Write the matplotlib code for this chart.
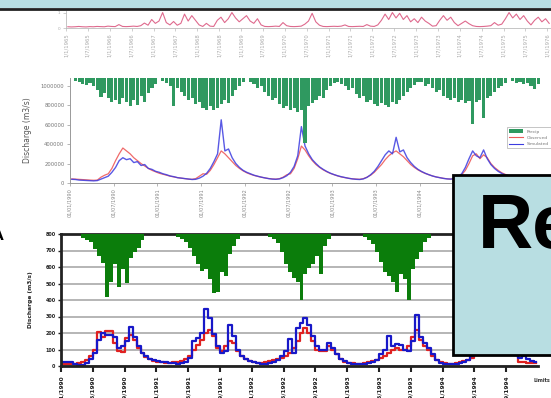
import matplotlib
matplotlib.use('Agg')
import matplotlib.pyplot as plt
from matplotlib.patches import Rectangle, Patch
from matplotlib.lines import Line2D
import numpy as np

# ──────────────────────────────────────────────
# data (three stacked hydrographs)
# ──────────────────────────────────────────────

# top strip: one pink series, monthly steps
top_series = [
    0.08, 0.07, 0.08, 0.10, 0.08, 0.07, 0.09, 0.08, 0.10, 0.09,
    0.08, 0.12, 0.10, 0.09, 0.22, 0.10, 0.09, 0.10, 0.12, 0.10,
    0.15, 0.32, 0.18, 0.55, 0.30, 0.45, 1.00, 0.35, 0.20, 0.42,
    0.18, 0.30, 0.90, 0.45, 0.80, 0.50, 0.20, 0.10, 0.30, 0.12,
    0.10, 0.50, 0.70, 0.35, 0.60, 1.00, 0.65, 0.40, 0.60, 0.80,
    0.45, 0.30, 0.60, 0.20, 0.10, 0.09, 0.10, 0.12, 0.10, 0.35,
    0.15, 0.10, 0.09, 0.10, 0.12, 0.25, 0.45, 0.95, 0.40, 0.18,
    0.10, 0.09, 0.10, 0.11, 0.10, 0.12, 0.20, 0.10, 0.09, 0.10,
    0.11, 0.10, 0.22, 0.12, 0.10, 0.20, 0.50, 0.90, 0.55, 1.00,
    0.65, 0.95, 0.55, 0.80, 0.40, 0.60, 0.35, 0.70, 0.45, 0.30,
    0.12, 0.15, 0.50, 0.80, 0.50, 0.70, 0.35, 0.15, 0.30, 0.45,
    0.28, 0.15, 0.10, 0.09, 0.10, 0.12, 0.15, 0.35, 0.18, 0.25,
    0.60, 1.00, 0.65, 0.90, 0.55, 0.80, 0.45, 0.20, 0.50, 0.70,
    0.40, 0.60, 0.30,
]
top_labels = ['1/%d/%d' % (1 if i % 2 == 0 else 7, 1965 + i // 2) for i in range(23)]

# middle chart: half-monthly precipitation (mm) and discharge (m3/s)
mid_precip = [
    0, 8,
    10, 15, 18, 12, 20, 30, 48, 38, 50, 60, 55, 65, 50, 60, 70, 55, 68, 45, 60, 38, 25, 15,
    0,
    8, 12, 20, 70, 25, 35, 45, 55, 50, 65, 60, 75, 80, 70, 80, 75, 65, 55, 62, 45, 30, 20, 10,
    0,
    10, 15, 25, 20, 35, 45, 55, 50, 65, 75, 70, 80, 75, 85, 78, 160, 70, 62, 55, 45, 50, 30, 20, 12,
    10, 15, 20, 30, 25, 40, 50, 45, 60, 55, 65, 70, 62, 68, 72, 60, 65, 55, 45, 35, 25, 18, 10,
    10, 20, 15, 25, 35, 30, 45, 50, 55, 50, 60, 55, 62, 58, 115, 60, 55, 98, 50, 45, 35, 25, 20, 12,
    0,
    8, 12, 10, 15, 12, 20, 28, 15,
    0, 0, 0,
]
mid_obs = [
    42000, 40000, 38000, 35000, 32000, 30000, 28000, 30000, 60000, 80000,
    95000, 150000, 230000, 300000, 360000, 330000, 300000, 260000, 230000, 200000,
    175000, 150000, 130000, 115000, 100000, 90000, 80000, 70000, 62000, 55000,
    50000, 45000, 40000, 38000, 45000, 70000, 95000, 90000, 130000, 190000,
    260000, 330000, 300000, 260000, 220000, 180000, 150000, 125000, 105000, 90000,
    78000, 68000, 60000, 52000, 46000, 42000, 40000, 45000, 60000, 85000,
    95000, 150000, 250000, 380000, 340000, 280000, 230000, 190000, 160000, 135000,
    115000, 98000, 85000, 72000, 62000, 55000, 48000, 43000, 40000, 38000,
    45000, 60000, 80000, 110000, 150000, 190000, 240000, 280000, 310000, 330000,
    300000, 270000, 230000, 190000, 160000, 135000, 115000, 98000, 85000, 72000,
    62000, 55000, 48000, 43000, 40000, 45000, 60000, 85000, 130000, 200000,
    280000, 300000, 250000, 290000, 260000, 200000, 160000, 130000, 105000, 88000,
    75000, 65000, 56000, 50000, 45000, 42000, 40000, 38000, 36000, 35000,
    34000, 33000,
]
mid_sim = [
    38000, 36000, 30000, 28000, 25000, 24000, 22000, 25000, 40000, 55000,
    70000, 110000, 160000, 230000, 260000, 240000, 250000, 210000, 220000, 180000,
    190000, 150000, 140000, 120000, 110000, 95000, 85000, 72000, 65000, 55000,
    50000, 45000, 40000, 36000, 38000, 50000, 70000, 100000, 150000, 220000,
    300000, 650000, 330000, 350000, 260000, 200000, 160000, 130000, 110000, 95000,
    80000, 70000, 60000, 52000, 45000, 40000, 38000, 42000, 55000, 75000,
    110000, 170000, 280000, 580000, 380000, 300000, 240000, 200000, 165000, 140000,
    118000, 100000, 86000, 74000, 64000, 56000, 48000, 42000, 38000, 36000,
    42000, 58000, 85000, 120000, 170000, 230000, 290000, 330000, 300000, 470000,
    320000, 340000, 260000, 210000, 170000, 140000, 118000, 100000, 85000, 72000,
    62000, 54000, 47000, 42000, 40000, 46000, 65000, 95000, 160000, 250000,
    330000, 280000, 260000, 340000, 250000, 190000, 150000, 120000, 98000, 82000,
    70000, 60000, 52000, 46000, 42000, 40000, 38000, 36000, 35000, 34000,
    33000, 32000,
]
mid_labels = ['01/%02d/%d' % (1 if i % 2 == 0 else 7, 1990 + i // 2) for i in range(10)]
mid_yticks = [0, 200000, 400000, 600000, 800000, 1000000]

# bottom chart: half-monthly precipitation (mm) and discharge
low_precip = [
    0, 0, 0, 0, 0,
    12, 18, 24, 45, 66, 87, 189, 144, 90, 159, 105, 147, 72, 54, 42, 18,
    0, 0, 0, 0, 0, 0, 0, 0,
    9, 15, 24, 42, 66, 90, 111, 105, 135, 177, 174, 114, 126, 60, 36, 15,
    0, 0, 0, 0, 0, 0, 0,
    9, 15, 27, 54, 90, 114, 132, 144, 198, 120, 102, 90, 66, 120, 36, 15,
    0, 0, 0, 0, 0, 0, 0, 0,
    9, 18, 30, 54, 84, 114, 126, 144, 174, 120, 135, 198, 105, 75, 54, 24, 12,
    0, 0, 0, 0, 0, 0, 0,
    9, 15, 30, 50, 80, 110, 130, 150, 180, 125, 140, 170, 100, 70, 45, 20, 10,
    0, 0, 0,
]
low_obs = [
    15, 15, 15, 15, 18, 22, 35, 60, 100, 205,
    175, 212, 212, 140, 90, 85, 170, 190, 160, 110,
    80, 55, 40, 30, 25, 22, 20, 20, 22, 25,
    30, 40, 60, 100, 130, 160, 200, 220, 180, 110,
    90, 120, 150, 140, 90, 60, 40, 30, 25, 20,
    20, 25, 30, 35, 42, 50, 60, 80, 110, 150,
    200, 230, 200, 150, 100, 90, 90, 120, 100, 70,
    40, 25, 20, 18, 15, 15, 20, 22, 28, 35,
    50, 60, 80, 100, 110, 100, 95, 120, 175, 220,
    160, 120, 100, 60, 35, 22, 18, 15, 15, 18,
    22, 28, 35, 50, 90, 150, 220, 260, 230, 250,
    190, 150, 120, 100, 90, 25, 22, 20, 20, 18,
]
low_sim = [
    25, 25, 25, 10, 8, 8, 20, 40, 80, 160,
    200, 190, 185, 175, 110, 120, 150, 236, 175, 120,
    80, 60, 45, 35, 30, 25, 22, 20, 18, 15,
    18, 25, 50, 150, 170, 200, 345, 290, 195, 120,
    80, 90, 250, 180, 100, 60, 40, 30, 22, 18,
    15, 15, 18, 22, 35, 60, 90, 165, 80, 230,
    260, 290, 250, 180, 120, 95, 95, 140, 110, 70,
    45, 30, 20, 15, 12, 12, 15, 18, 25, 35,
    70, 100, 180, 120, 135, 125, 100, 90, 150, 310,
    175, 140, 110, 70, 35, 20, 15, 12, 12, 15,
    20, 25, 35, 60, 120, 200, 280, 320, 240, 290,
    200, 150, 110, 85, 65, 50, 60, 45, 30, 25,
]
low_labels = ['1/%d/%d' % (1 + 4 * (i % 3), 1990 + i // 3) for i in range(15)]
low_yticks = [0, 100, 200, 300, 400, 500, 600, 700, 800]

W, H = 551, 398


def px_box(x0, y0, x1, y1):
    """pixel rectangle (top-left origin) -> figure coords"""
    return [x0 / W, 1 - y1 / H, (x1 - x0) / W, (y1 - y0) / H]


fig = plt.figure(figsize=(W / 100, H / 100), dpi=100)
fig.patch.set_facecolor('white')

# slide title band at the very top
fig.add_artist(Rectangle((0, 1 - 8 / H), 1, 8 / H, transform=fig.transFigure,
                         facecolor='#b8dfe3', edgecolor='none'))
fig.add_artist(Line2D([0, 1], [1 - 9 / H, 1 - 9 / H], transform=fig.transFigure,
                      color='#222222', linewidth=2))

# ──────────────────────────────────────────────
# top strip
# ──────────────────────────────────────────────
ax1 = fig.add_axes(px_box(66, 11, 551, 28))
x1 = np.arange(len(top_series)) + 0.5
ax1.plot(x1, top_series, color='#d9507a', linewidth=0.8, alpha=0.85)
ax1.set_xlim(0, len(top_series))
ax1.set_ylim(0, 1.1)
ax1.set_xticks(np.arange(0, len(top_series), 6))
ax1.set_xticklabels(top_labels, rotation=90, fontsize=3.8, color='#aaaaaa')
ax1.set_yticks([0, 1])
ax1.set_yticklabels(['0', '1'], fontsize=3, color='#aaaaaa')
ax1.tick_params(length=2, width=0.5, color='#bbbbbb', pad=2)
for s in ['top', 'right']:
    ax1.spines[s].set_visible(False)
for s in ['left', 'bottom']:
    ax1.spines[s].set_color('#bbbbbb')
    ax1.spines[s].set_linewidth(0.6)

# ──────────────────────────────────────────────
# middle chart
# ──────────────────────────────────────────────
ax2 = fig.add_axes(px_box(70, 78, 551, 183))
x2 = np.arange(len(mid_obs)) + 0.5
ax2.plot(x2, mid_obs, color='#ee5a5a', linewidth=0.9, alpha=0.9)
ax2.plot(x2, mid_sim, color='#3c3ce0', linewidth=1.0, alpha=0.85)
ax2.set_xlim(0, len(mid_obs))
ax2.set_ylim(0, 1080000)
ax2.set_yticks(mid_yticks)
ax2.set_yticklabels([str(v) for v in mid_yticks], fontsize=3.8, color='#777777')
ax2.set_xticks(np.arange(0, 12 * len(mid_labels), 12))
ax2.set_xticklabels(mid_labels, rotation=90, fontsize=3.6, color='#888888')
ax2.tick_params(length=2, width=0.5, color='#999999', pad=2)
ax2.set_ylabel('Discharge (m3/s)', fontsize=5.5, color='#555555', labelpad=6)
for s in ['top', 'right']:
    ax2.spines[s].set_visible(False)
for s in ['left', 'bottom']:
    ax2.spines[s].set_color('#999999')
    ax2.spines[s].set_linewidth(0.7)

ax2p = ax2.twinx()
ax2p.bar(x2, mid_precip, width=0.85, color='#2f9960')
ax2p.set_ylim(260, 0)
ax2p.set_yticks([])
for s in ax2p.spines.values():
    s.set_visible(False)

handles = [Patch(facecolor='#2f9960'),
           Line2D([], [], color='#ee5a5a', linewidth=0.8),
           Line2D([], [], color='#3c3ce0', linewidth=0.8)]
leg = ax2p.legend(handles, ['Precip', 'Observed', 'Simulated'], fontsize=3.2,
                  loc='upper left', bbox_to_anchor=(505 / W, 1 - 125 / H),
                  bbox_transform=fig.transFigure, frameon=True, fancybox=False,
                  handlelength=3, borderpad=0.5, labelspacing=0.5)
leg.get_frame().set_edgecolor('#999999')
leg.get_frame().set_linewidth(0.5)
for t in leg.get_texts():
    t.set_color('#777777')

# ──────────────────────────────────────────────
# bottom chart
# ──────────────────────────────────────────────
ax3 = fig.add_axes(px_box(61, 234, 538, 366))
x3 = np.arange(len(low_obs)) + 0.5
ax3.set_xlim(0, len(low_obs))
ax3.set_ylim(0, 800)
ax3.set_yticks(low_yticks)
ax3.set_yticklabels([str(v) for v in low_yticks], fontsize=3.5,
                    fontweight='bold', color='#222222')
ax3.grid(axis='y', color='#b0b0b0', linewidth=1.3)
ax3.set_axisbelow(True)
ax3.step(x3, low_obs, where='mid', color='#e02020', linewidth=1.6)
ax3.step(x3, low_sim, where='mid', color='#1818c8', linewidth=1.6)
ax3.set_xticks(np.arange(0, 8 * len(low_labels), 8))
ax3.set_xticklabels(low_labels, rotation=90, fontsize=4.2, fontweight='bold',
                    color='#222222')
ax3.tick_params(axis='x', length=4, width=1.5, color='#222222', pad=3)
ax3.tick_params(axis='y', length=2, width=1, color='#222222', pad=2)
ax3.set_ylabel('Discharge (m3/s)', fontsize=4.2, fontweight='bold',
               color='#222222', labelpad=9)
ax3.spines['right'].set_visible(False)
for s in ['top', 'left', 'bottom']:
    ax3.spines[s].set_color('#222222')
    ax3.spines[s].set_linewidth(2)

ax3p = ax3.twinx()
ax3p.bar(x3, low_precip, width=1.0, color='#0b7d0b')
ax3p.set_ylim(396, 0)
ax3p.set_yticks([])
for s in ax3p.spines.values():
    s.set_visible(False)

fig.text(534 / W, 1 - 381 / H, 'Limits', fontsize=3.5, fontweight='bold',
         color='#333333', va='center')

# panel letter, cut at the slide edge
fig.text(-7 / W, 1 - 236 / H, 'A', fontsize=10, fontweight='bold',
         va='center', ha='left')

# overlapping slide text box
fig.add_artist(Rectangle((453 / W, 1 - 355 / H), 110 / W, 180 / H,
                         transform=fig.transFigure, facecolor='#b8dee2',
                         edgecolor='black', linewidth=2, zorder=5))
fig.text(478 / W, 1 - 248 / H, 'Re', fontsize=55, fontweight='bold',
         family='Liberation Sans', va='baseline', ha='left', zorder=6)

fig.savefig('out.png', dpi=100, facecolor='white')
plt.close(fig)
